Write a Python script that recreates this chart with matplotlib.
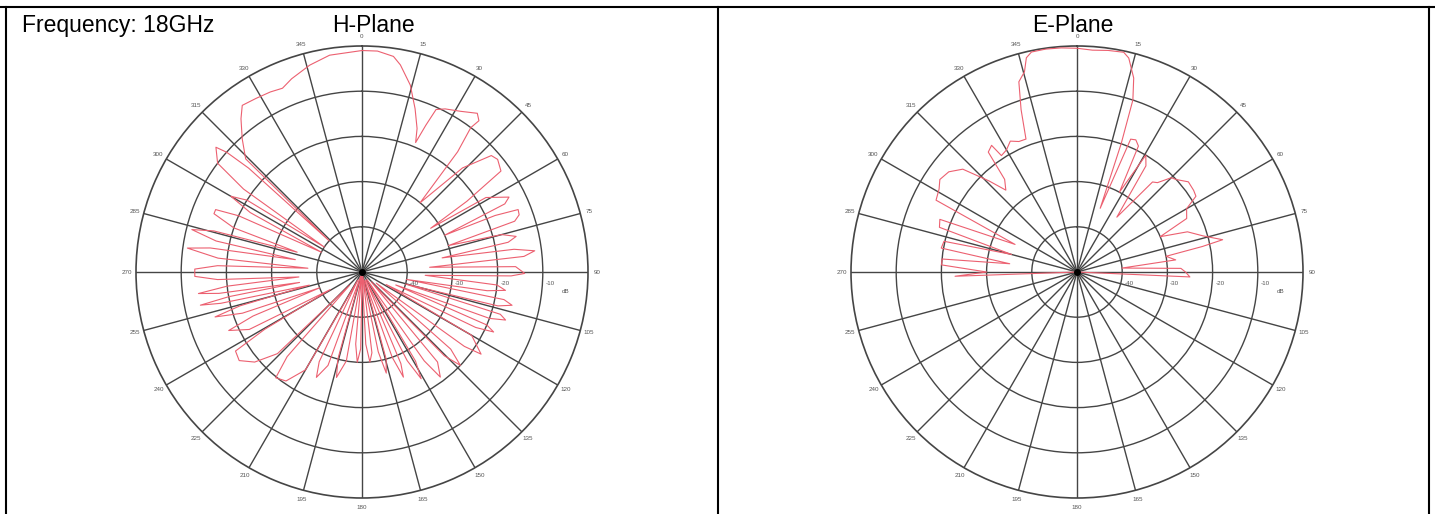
import numpy as np
import matplotlib
matplotlib.use("Agg")
import matplotlib.pyplot as plt
from matplotlib.lines import Line2D
from matplotlib.transforms import offset_copy

plt.rcParams["font.family"] = ["Liberation Sans", "DejaVu Sans"]

W, H = 1435, 514

# H-plane pattern, angle in degrees (clockwise from top), level in dB
H_ANGLE = [
    0, 4, 8.3, 10.5, 14.5, 18, 21, 22.5, 23.5, 24.5, 27, 31.5, 36, 37.7, 37,
    38.5, 40, 44, 48, 50.3, 54, 56, 57.5, 59, 63, 64.5, 66, 67, 68.2, 70, 71.6,
    73, 75, 77, 78.5, 80, 81.5, 83, 84.5, 86, 88, 90.5, 91.5, 93, 95.5, 97.3,
    98.5, 99.5, 101, 102.5, 104, 105.5, 107, 108.5, 110, 111, 113, 114.5, 116,
    117.5, 120, 124.6, 126, 128, 131, 133.5, 135.5, 137, 140, 143.3, 145, 146.5,
    149, 151, 153, 154.5, 157, 158.5, 160.5, 162, 164.5, 166.5, 168.5, 170, 173,
    175, 177, 178.5, 181, 183, 185, 187, 190, 193.6, 195.5, 197.5, 200, 203.4,
    205.5, 207.5, 210, 214.9, 219.2, 221.5, 223, 226, 230, 234.2, 238, 239.5,
    241, 243, 246.3, 248, 249.5, 251, 253, 254.5, 256, 257.5, 258.4, 259.5,
    260.5, 261.5, 262.5, 264, 265.5, 267, 268.5, 271, 272.5, 274, 275.5, 277.8,
    279, 280.5, 282, 284, 285.5, 287, 289, 291.5, 293.1, 294.5, 296, 298, 300,
    302, 303.5, 305, 307, 310.5, 311.5, 312.5, 313.5, 314.2, 318, 321.7, 324.3,
    328.6, 333, 336.6, 340, 345.8, 351.5, 360,
]
H_DB = [
    -1.0, -1.0, -1.8, -3.4, -7.3, -12, -16, -19, -14.6, -10.5, -9.5, -8.3, -6.6,
    -7.7, -10, -16, -30, -18, -11.5, -11, -12, -22, -32, -18, -13.5, -15, -30,
    -18, -12.8, -13, -14.4, -30, -18, -15, -17, -32, -16, -11.5, -14, -35, -16,
    -14, -17, -36, -20, -18, -22, -40, -18, -16, -19, -40, -18, -16.5, -20, -42,
    -20, -18, -22, -44, -22, -18, -22, -46, -24, -20, -24, -47, -24, -21, -26,
    -48, -27, -23, -28, -48, -28, -25, -30, -48, -30, -27, -32, -49, -32, -30,
    -34, -49, -33, -30, -34, -49, -30, -26, -30, -49, -28, -24.6, -28, -48, -25,
    -20.6, -19.8, -25, -46, -24, -19, -16.5, -17, -25, -42, -22, -17.8, -24, -40,
    -22, -16, -22, -38, -18, -13.5, -20, -36, -18, -13.5, -20, -36, -18, -13,
    -13, -18, -38, -18, -11, -16, -35, -17, -11.2, -16, -35, -20, -14.8, -14.8,
    -20, -40, -22, -16.5, -20, -40, -18, -10, -7.5, -10, -16, -40, -14.1, -10.4,
    -6.8, -4.6, -5, -5.3, -5.7, -4.5, -2.8, -1.5, -1.0,
]

# E-plane pattern (nothing measured below the horizon)
E_ANGLE = [
    262, 268, 270, 273, 275.5, 277, 280, 283, 285, 288, 291, 294, 297, 301, 304,
    308, 312, 316, 319, 322, 323.5, 326, 327, 330, 333, 336, 339, 341, 343, 345.3,
    346.7, 348.3, 352, 356, 360, 364, 368, 372, 373.6, 376.3, 378, 379, 380, 382,
    384, 386, 388, 390.5, 393, 396, 400, 402, 405, 407, 411, 415, 417.5, 420,
    424, 427, 430, 434, 437.5, 438.5, 440, 443, 445, 448, 450, 452.5, 457,
]
E_DB = [
    -50, -23, -30, -20, -20, -35, -19.5, -19.8, -35, -18, -17.5, -35, -15, -14.4,
    -13.4, -14, -16, -22, -26, -24, -17, -16.2, -19.3, -18.8, -17.5, -18.4, -18.5,
    -12, -6, -4.2, -1.3, -0.3, -0.2, -0.3, -0.5, -0.8, -0.5, -0.3, -1.3, -5.3,
    -10, -20, -35, -18.3, -18, -19, -30, -20, -22, -35, -24, -23.4, -20.5, -20,
    -18.3, -18.5, -18.8, -22, -23, -30, -24, -21, -17, -21.7, -30, -28, -40, -27,
    -26, -25, -50,
]

RING_DB = [-40, -30, -20, -10]
ANGLE_TICKS = list(range(0, 360, 15))

GRID = "#454545"
TRACE = "#ec6070"


def polar_panel(cx, cy, r, angle, db):
    ax = fig.add_axes([(cx - r) / W, 1 - (cy + r) / H, 2 * r / W, 2 * r / H],
                      projection="polar")
    ax.set_theta_zero_location("N")
    ax.set_theta_direction(-1)
    ax.set_ylim(-50, 0)
    ax.set_yticks(RING_DB)
    ax.set_yticklabels([])
    ax.set_thetagrids(ANGLE_TICKS, labels=[str(a) for a in ANGLE_TICKS])
    ax.tick_params(axis="x", labelsize=4.5, labelcolor="#555555", pad=-4)
    ax.grid(True, color=GRID, lw=1.0)
    ax.spines["polar"].set_color(GRID)
    ax.spines["polar"].set_linewidth(1.2)

    ax.plot(np.deg2rad(angle), db, color=TRACE, lw=0.8, zorder=3)
    ax.plot(0, -50, "o", ms=4, color="black", zorder=4)

    below = offset_copy(ax.transData, fig=fig, x=2, y=-8, units="points")
    for v in RING_DB:
        ax.text(np.pi / 2, v, str(v), transform=below, fontsize=4.5,
                color="#555555", ha="left", va="center")
    db_tr = offset_copy(ax.transData, fig=fig, x=14, y=-14, units="points")
    ax.text(np.pi / 2, -10, "dB", transform=db_tr, fontsize=4.5,
            color="#555555", ha="left", va="center")
    return ax


fig = plt.figure(figsize=(W / 100, H / 100), dpi=100)

polar_panel(362, 272, 226, H_ANGLE, H_DB)
polar_panel(1077, 272, 226, E_ANGLE, E_DB)

fig.text(22 / W, 1 - 32 / H, "Frequency: 18GHz", fontsize=16.5, ha="left",
         va="baseline")
fig.text(373 / W, 1 - 32 / H, "H-Plane", fontsize=16.5, ha="center",
         va="baseline")
fig.text(1073 / W, 1 - 32 / H, "E-Plane", fontsize=16.5, ha="center",
         va="baseline")

# table frame
top = 1 - 7 / H
fig.add_artist(Line2D([0, 1], [top, top], transform=fig.transFigure,
                      color="black", lw=1.5))
for x in (6, 718, 1429):
    fig.add_artist(Line2D([x / W, x / W], [0, top], transform=fig.transFigure,
                          color="black", lw=1.5))

fig.savefig("out.png", dpi=100)
